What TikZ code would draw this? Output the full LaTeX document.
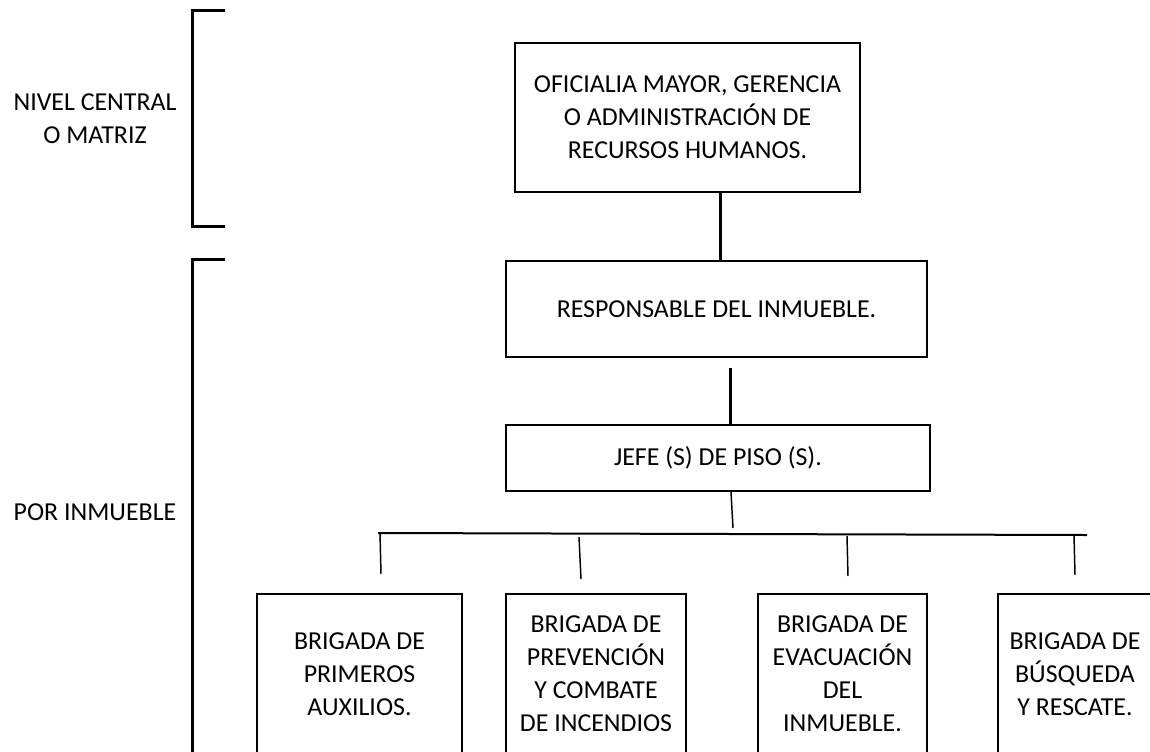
\documentclass[tikz,border=0pt]{standalone}
\usepackage{fontspec}
\setmainfont{Carlito}
\usetikzlibrary{positioning,calc}

\def\px{*0.75pt}

\begin{document}
\begin{tikzpicture}[x=0.75pt,y=-0.75pt,
    box/.style={draw,line width=1.5pt,align=center,inner sep=0pt,
        font=\fontsize{19.4}{24.75}\selectfont},
    brig/.style={box,anchor=north,minimum height=160\px},
    side/.style={align=center,font=\fontsize{19.4}{24.75}\selectfont},
    bracket/.style={line width=2.25pt},
    link/.style={line width=2.25pt},
    drop/.style={line width=1.1pt}]
\useasboundingbox (0,0) rectangle (1150,751);
\clip (0,0) rectangle (1150,751);
\fill[white] (0,0) rectangle (1150,751);

% niveles
\node[side] (nivel) at (95,119) {NIVEL CENTRAL\\O MATRIZ};
\node[side] (porinmueble) at (95,512) {POR INMUEBLE};
\draw[bracket] (225,10) -- (192,10) -- (192,226) -- (225,226);
\draw[bracket] (225,259) -- (192,259) -- (192,760);

% organigrama
\node[box,minimum width=345\px,minimum height=149\px] (oficialia) at (687.5,117.5)
    {OFICIALIA MAYOR, GERENCIA\\O ADMINISTRACIÓN DE\\RECURSOS HUMANOS.};
\node[box,minimum width=421\px,minimum height=96\px] (responsable)
    [below=67\px of oficialia, xshift=29\px] {RESPONSABLE DEL INMUEBLE.};
\node[box,minimum width=424\px,minimum height=66\px] (jefe)
    [below=66\px of responsable, xshift=1.5\px] {JEFE (S) DE PISO (S).};

\node[brig,minimum width=205\px] (primeros) at (359.5,593)
    {BRIGADA DE\\PRIMEROS\\AUXILIOS.};
\node[brig,minimum width=180\px] (prevencion) at (596,593)
    {BRIGADA DE\\PREVENCIÓN\\Y COMBATE\\DE INCENDIOS};
\node[brig,minimum width=169\px] (evacuacion) at (842.5,593)
    {BRIGADA DE\\EVACUACIÓN\\DEL\\INMUEBLE.};
\node[brig,minimum width=154\px] (busqueda) at (1075,593)
    {BRIGADA DE\\BÚSQUEDA\\Y RESCATE.};

\draw[link] ([xshift=32.5\px]oficialia.south) -- ([xshift=32.5\px]oficialia.south |- responsable.north);
\draw[link] ([xshift=13.5\px,yshift=-10\px]responsable.south) -- ([xshift=13.5\px]responsable.south |- jefe.north);

% barra de brigadas
\coordinate (busL) at (378,533);
\coordinate (busR) at (1087,535);
\coordinate (hub) at (733,528);
\draw[drop] ([xshift=13\px]jefe.south) -- (hub);
\draw[line width=1.5pt] (busL) -- (busR);
\foreach \xa/\ya/\xb/\yb in {380/533/381/574, 579/537/581/579, 847/536/848/576, 1074/535/1075/575}
    \draw[drop] (\xa,\ya) -- (\xb,\yb);
\end{tikzpicture}
\end{document}
